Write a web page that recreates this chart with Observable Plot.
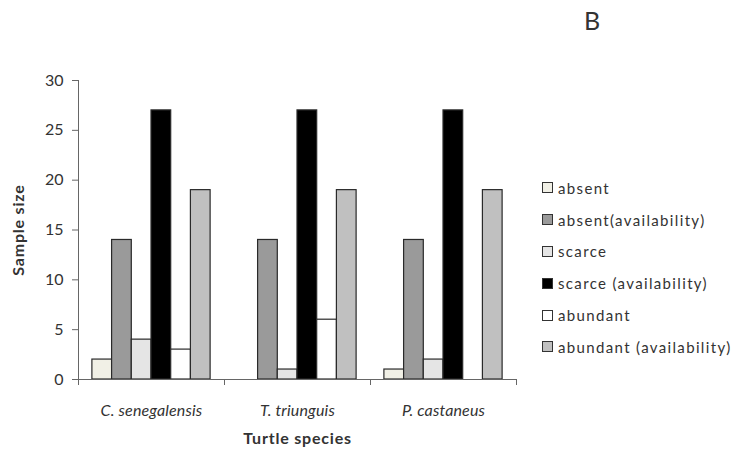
<!DOCTYPE html>
<html>
<head>
<meta charset="utf-8">
<script src="https://cdn.jsdelivr.net/npm/d3@7"></script>
<script src="https://cdn.jsdelivr.net/npm/@observablehq/plot@0.6"></script>
<style>
  body { margin: 0; background: #fff; }
  #wrap { position: relative; width: 732px; height: 455px; font-family: Lato, "Open Sans", sans-serif; color: #333; }
  #title { position: absolute; left: 584px; top: 5px; font-size: 25px; line-height: 30px; }
  #legend { position: absolute; left: 542px; top: 172px; font-size: 15px; letter-spacing: 1.35px; }
  #legend .row { height: 31.8px; display: flex; align-items: center; }
  #legend .sw { width: 9px; height: 9px; border: 1px solid #333; margin-right: 5px; flex: none; }
  g[aria-label="x-axis label"] text { font-weight: bold; font-style: normal; letter-spacing: 0.8px; font-size: 16px; }
  g[aria-label="y-axis label"] text { font-weight: bold; font-style: normal; letter-spacing: 0.8px; font-size: 16px; }
  g[aria-label="x-axis tick label"] text { letter-spacing: 0.15px; }
</style>
</head>
<body>
<div id="wrap">
  <div id="chart"></div>
  <div id="title">B</div>
  <div id="legend"></div>
</div>
<script>
const species = ["C. senegalensis", "T. triunguis", "P. castaneus"];
const series = ["absent", "absent(availability)", "scarce", "scarce (availability)", "abundant", "abundant (availability)"];
const absent = [2, 0, 1];
const absentAvailability = [14, 14, 14];
const scarce = [4, 1, 2];
const scarceAvailability = [27, 27, 27];
const abundant = [3, 6, 0];
const abundantAvailability = [19, 19, 19];
const colors = ["#f1f0e6", "#9a9a9a", "#e5e5e5", "#000000", "#ffffff", "#c0c0c0"];
const yTicks = [0, 5, 10, 15, 20, 25, 30];

const valuesBySeries = [absent, absentAvailability, scarce, scarceAvailability, abundant, abundantAvailability];
// bars within each species group laid out with a band scale in data units (group i spans [i, i+1])
const inner = d3.scaleBand().domain(series).range([0, 1]).paddingInner(0).paddingOuter(0.705);
const data = [];
species.forEach((sp, i) => series.forEach((s, j) => data.push({
  species: sp, series: s, value: valuesBySeries[j][i],
  x1: i + inner(s), x2: i + inner(s) + inner.bandwidth()
})));
const groupEdges = d3.range(species.length + 1);
const groupCenters = species.map((_, i) => i + 0.5);

const chart = Plot.plot({
  width: 732,
  height: 455,
  marginLeft: 78,
  marginRight: 216,
  marginTop: 80,
  marginBottom: 76,
  style: {fontFamily: "Lato, 'Open Sans', sans-serif", fontSize: "16px", color: "#333"},
  x: {domain: [0, species.length], label: "Turtle species"},
  y: {domain: [0, 30], label: "Sample size"},
  color: {domain: series, range: colors},
  marks: [
    Plot.rectY(data, {x1: "x1", x2: "x2", y: "value", fill: "series", stroke: "#2a2a2a", strokeWidth: 1.2}),
    Plot.ruleY([0], {stroke: "#666"}),
    Plot.ruleX([0], {stroke: "#666"}),
    Plot.axisX({ticks: groupEdges, tickFormat: () => "", tickSize: 6, stroke: "#666", label: null}),
    Plot.axisX({ticks: groupCenters, tickFormat: (d) => species[Math.round(d - 0.5)], tickSize: 0, tickPadding: 25, fontSize: 16, fontStyle: "italic", label: "Turtle species", labelAnchor: "center", labelArrow: "none", labelOffset: 64}),
    Plot.axisY({ticks: yTicks, tickSize: 6, tickPadding: 9, stroke: "#666", fontSize: 16, label: "Sample size", labelAnchor: "center", labelArrow: "none", labelOffset: 66})
  ]
});
document.getElementById("chart").appendChild(chart);

const legend = document.getElementById("legend");
series.forEach((s, j) => {
  const row = document.createElement("div");
  row.className = "row";
  const sw = document.createElement("div");
  sw.className = "sw";
  sw.style.background = colors[j];
  const t = document.createElement("span");
  t.textContent = s;
  row.appendChild(sw);
  row.appendChild(t);
  legend.appendChild(row);
});
</script>
</body>
</html>
